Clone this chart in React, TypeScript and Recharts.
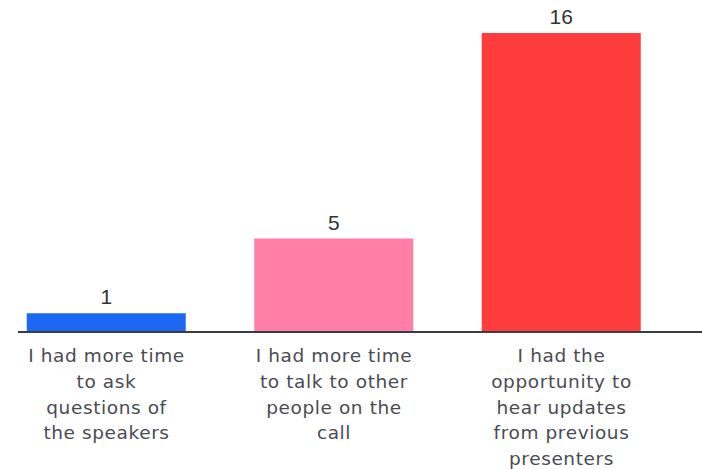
import React from 'react';
import { BarChart, Bar, XAxis, YAxis, Cell, LabelList } from 'recharts';

const categories = [
  'I had more time\nto ask\nquestions of\nthe speakers',
  'I had more time\nto talk to other\npeople on the\ncall',
  'I had the\nopportunity to\nhear updates\nfrom previous\npresenters',
];
const responses = [1, 5, 16];
const barColors = ['#1d67f2', '#ff7fa8', '#ff3c3c'];

const data = categories.map((name, i) => ({ idx: i, name, value: responses[i] }));

const CategoryTick = (props: any) => {
  const { x, y, payload } = props;
  const lines: string[] = categories[payload.value].split('\n');
  return (
    <text
      x={x}
      y={y}
      textAnchor="middle"
      fill="#4a4b52"
      fontSize={18.5}
      letterSpacing={0.6}
      fontFamily="'DejaVu Sans', sans-serif"
    >
      {lines.map((line, i) => (
        <tspan key={i} x={x} dy={i === 0 ? 22 : 25.8}>
          {line}
        </tspan>
      ))}
    </text>
  );
};

const App: React.FC = () => {
  return (
    <div style={{ position: 'absolute', left: 0, top: 0, width: 702, height: 469, background: '#fff' }}>
      <BarChart width={702} height={469} data={data} margin={{ top: 33, right: 0, left: 18, bottom: 0 }}>
        <XAxis
          type="number"
          dataKey="idx"
          domain={[-0.389, 2.6176]}
          ticks={[0, 1, 2]}
          allowDataOverflow
          height={137}
          tickLine={false}
          axisLine={{ stroke: '#3b3d45', strokeWidth: 2 }}
          tick={<CategoryTick />}
          interval={0}
        />
        <YAxis hide domain={[0, 16]} />
        <Bar dataKey="value" barSize={159} isAnimationActive={false}>
          {data.map((_, i) => (
            <Cell key={`cell-${i}`} fill={barColors[i]} />
          ))}
          <LabelList
            dataKey="value"
            position="top"
            offset={9}
            fill="#333"
            fontSize={21}
            fontFamily="'Liberation Sans', Arial, sans-serif"
          />
        </Bar>
      </BarChart>
    </div>
  );
};

export default App;
